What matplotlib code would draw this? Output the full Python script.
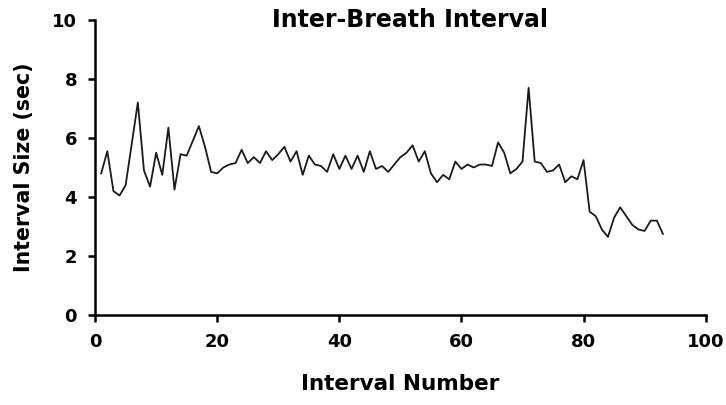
import matplotlib.pyplot as plt

plt.rcParams['font.family'] = ['DejaVu Sans']
plt.rcParams['font.weight'] = 'bold'

interval_number = list(range(1, 94))
interval_size = [
    4.8, 5.55, 4.2, 4.05, 4.4, 5.8, 7.2, 4.9, 4.35, 5.5,
    4.75, 6.35, 4.25, 5.45, 5.4, 5.9, 6.4, 5.7, 4.85, 4.8,
    5.0, 5.1, 5.15, 5.6, 5.15, 5.35, 5.15, 5.55, 5.25, 5.45,
    5.7, 5.2, 5.55, 4.75, 5.4, 5.1, 5.05, 4.85, 5.45, 4.95,
    5.4, 4.95, 5.4, 4.85, 5.55, 4.95, 5.05, 4.85, 5.1, 5.35,
    5.5, 5.75, 5.2, 5.55, 4.8, 4.5, 4.75, 4.6, 5.2, 4.95,
    5.1, 5.0, 5.1, 5.1, 5.05, 5.85, 5.5, 4.8, 4.95, 5.2,
    7.7, 5.2, 5.15, 4.85, 4.9, 5.1, 4.5, 4.7, 4.6, 5.25,
    3.5, 3.35, 2.9, 2.65, 3.3, 3.65, 3.35, 3.05, 2.9, 2.85,
    3.2, 3.2, 2.75,
]

fig = plt.figure(figsize=(7.26, 4.05), dpi=100)
ax = fig.add_axes([0.131, 0.222, 0.841, 0.729])
ax.plot(interval_number, interval_size, color='#1a1a1a', linewidth=1.3)

ax.set_xlim(0, 100)
ax.set_ylim(0, 10)
ax.set_xticks(range(0, 101, 20))
ax.set_yticks(range(0, 11, 2))
ax.spines['top'].set_visible(False)
ax.spines['right'].set_visible(False)
ax.spines['left'].set_linewidth(1.8)
ax.spines['bottom'].set_linewidth(1.8)
ax.tick_params(direction='out', length=5, width=1.8, labelsize=13, pad=8)

ax.set_xlabel('Interval Number', fontsize=15.5, fontweight='bold')
ax.set_ylabel('Interval Size (sec)', fontsize=14.8, fontweight='bold')
ax.xaxis.set_label_coords(0.5, -0.2)
ax.yaxis.set_label_coords(-0.1, 0.5)
ax.text(0.515, 1.0, 'Inter-Breath Interval', transform=ax.transAxes,
        ha='center', va='center', fontsize=17, fontweight='bold')

fig.savefig('out.png', dpi=100)
